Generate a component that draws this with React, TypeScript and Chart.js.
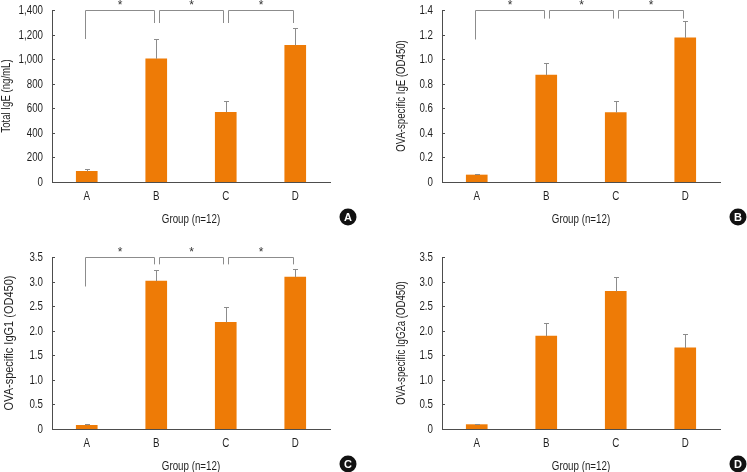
import React, { useEffect, useRef } from "react";
import { Chart, registerables } from "chart.js";
Chart.register(...registerables);

const FONT = "'Liberation Sans', Arial, sans-serif";
Chart.defaults.font.family = FONT;

const groups = ["A", "B", "C", "D"];
const xTitle = "Group (n=12)";

const totalIgE = [87, 1003, 568, 1112];
const totalIgEErr = [22, 158, 90, 138];
const totalIgETicks = [0, 200, 400, 600, 800, 1000, 1200, 1400];

const ovaIgE = [0.057, 0.87, 0.565, 1.174];
const ovaIgEErr = [0.011, 0.095, 0.093, 0.139];
const ovaIgETicks = [0, 0.2, 0.4, 0.6, 0.8, 1.0, 1.2, 1.4];

const ovaIgG1 = [0.075, 3.01, 2.17, 3.09];
const ovaIgG1Err = [0.025, 0.22, 0.32, 0.16];
const igGTicks = [0, 0.5, 1.0, 1.5, 2.0, 2.5, 3.0, 3.5];

const ovaIgG2a = [0.089, 1.89, 2.8, 1.65];
const ovaIgG2aErr = [0.012, 0.26, 0.3, 0.28];

// [from group index, to group index, bottom value of left leg, bottom value of right leg]
const bracketsA = [
  [0, 1, 1164, 1294],
  [1, 2, 1294, 1294],
  [2, 3, 1294, 1294],
];
const bracketsB = [
  [0, 1, 1.16, 1.33],
  [1, 2, 1.33, 1.33],
  [2, 3, 1.33, 1.33],
];
const bracketsC = [
  [0, 1, 2.9, 3.35],
  [1, 2, 3.35, 3.35],
  [2, 3, 3.35, 3.35],
];
const bracketsD: number[][] = [];

const ORANGE = "#EE7B06";
const AXIS = "#4d4d4d";
const GREY = "#8c8c8c";
const TEXT = "#1f1f1f";
const SX = 0.78;

function drawText(
  ctx: CanvasRenderingContext2D,
  text: string,
  x: number,
  y: number,
  size: number,
  align: CanvasTextAlign,
  sx: number,
  rotate = false
) {
  ctx.save();
  ctx.translate(x, y);
  if (rotate) ctx.rotate(-Math.PI / 2);
  ctx.scale(sx, 1);
  ctx.font = size + "px " + FONT;
  ctx.fillStyle = TEXT;
  ctx.textAlign = align;
  ctx.textBaseline = "middle";
  ctx.fillText(text, 0, 0);
  ctx.restore();
}

type PanelProps = {
  values: number[];
  errors: number[];
  ticks: number[];
  fmt: (v: number) => string;
  yTitle: string;
  badge: string;
  brackets: number[][];
  left: number;
  top: number;
  width: number;
  rightPad: number;
  titleX: number;
  titleSx: number;
};

function Panel(p: PanelProps) {
  const ref = useRef<HTMLCanvasElement>(null);
  useEffect(() => {
    const canvas = ref.current!;
    const yMax = p.ticks[p.ticks.length - 1];
    const step = p.ticks[1] - p.ticks[0];
    const overlay = {
      id: "overlay",
      afterDraw(chart: any) {
        const ctx = chart.ctx as CanvasRenderingContext2D;
        const xs = chart.scales.x;
        const ys = chart.scales.y;
        const area = chart.chartArea;
        ctx.save();
        // inward y ticks and y tick labels
        ctx.strokeStyle = AXIS;
        ctx.lineWidth = 1;
        p.ticks.forEach((t) => {
          const y = Math.round(ys.getPixelForValue(t)) + 0.5;
          ctx.beginPath();
          ctx.moveTo(area.left, y);
          ctx.lineTo(area.left + 3, y);
          ctx.stroke();
          drawText(ctx, p.fmt(t), area.left - 9, y, 12.5, "right", SX);
        });
        // x tick labels and titles
        groups.forEach((g, i) => {
          drawText(ctx, g, xs.getPixelForValue(i), area.bottom + 14.5, 12.5, "center", SX);
        });
        drawText(ctx, xTitle, (area.left + area.right) / 2, area.bottom + 37.5, 12.5, "center", SX);
        drawText(ctx, p.yTitle, p.titleX, (area.top + area.bottom) / 2, 12.5, "center", p.titleSx, true);
        // error bars
        ctx.strokeStyle = GREY;
        p.values.forEach((v, i) => {
          const x = Math.round(xs.getPixelForValue(i)) + 0.5;
          const y0 = ys.getPixelForValue(v);
          const y1 = Math.round(ys.getPixelForValue(v + p.errors[i])) + 0.5;
          ctx.beginPath();
          ctx.moveTo(x, y0);
          ctx.lineTo(x, y1);
          ctx.moveTo(x - 2.5, y1);
          ctx.lineTo(x + 2.5, y1);
          ctx.stroke();
        });
        // significance brackets
        const yTop = Math.round(ys.getPixelForValue(yMax)) + 0.5;
        p.brackets.forEach(([a, b, la, lb]) => {
          const xa = Math.round(xs.getPixelForValue(a) + (a === 0 ? -2 : 2.5)) + 0.5;
          const xb = Math.round(xs.getPixelForValue(b) - 2.5) + 0.5;
          ctx.strokeStyle = GREY;
          ctx.beginPath();
          ctx.moveTo(xa, ys.getPixelForValue(la));
          ctx.lineTo(xa, yTop);
          ctx.lineTo(xb, yTop);
          ctx.lineTo(xb, ys.getPixelForValue(lb));
          ctx.stroke();
          ctx.fillStyle = "#333";
          ctx.font = "12px " + FONT;
          ctx.textAlign = "center";
          ctx.textBaseline = "alphabetic";
          ctx.fillText("*", (xa + xb) / 2, yTop - 1.5);
        });
        // panel badge
        const bx = area.right + 18;
        const by = area.bottom + 35;
        ctx.fillStyle = "#111";
        ctx.beginPath();
        ctx.arc(bx, by, 8.5, 0, Math.PI * 2);
        ctx.fill();
        ctx.fillStyle = "#fff";
        ctx.font = "bold 11px " + FONT;
        ctx.textAlign = "center";
        ctx.textBaseline = "middle";
        ctx.fillText(p.badge, bx, by + 0.5);
        ctx.restore();
      },
    };
    const chart = new Chart(canvas, {
      type: "bar",
      data: {
        labels: groups,
        datasets: [
          {
            data: p.values,
            backgroundColor: ORANGE,
            borderWidth: 0,
            barThickness: 21,
          },
        ],
      },
      options: {
        animation: false,
        responsive: false,
        maintainAspectRatio: false,
        layout: { padding: { top: 10, right: p.rightPad, left: 0, bottom: 0 } },
        plugins: { legend: { display: false }, tooltip: { enabled: false } },
        scales: {
          x: {
            offset: true,
            grid: { display: false, drawTicks: false },
            border: { display: true, color: AXIS, width: 1 },
            ticks: { display: false },
            afterFit: (s: any) => {
              s.height = 53;
            },
          },
          y: {
            min: 0,
            max: yMax,
            grid: { display: false, drawTicks: false },
            border: { display: true, color: AXIS, width: 1 },
            ticks: { display: false, stepSize: step },
            afterFit: (s: any) => {
              s.width = 52;
            },
          },
        },
      },
      plugins: [overlay],
    });
    return () => chart.destroy();
  }, []);
  return (
    <canvas
      ref={ref}
      width={p.width}
      height={235}
      style={{ position: "absolute", left: p.left, top: p.top, width: p.width, height: 235 }}
    />
  );
}

const fmtComma = (v: number) => v.toLocaleString("en-US");
const fmtDec = (v: number) => (v === 0 ? "0" : v.toFixed(1));

export default function App() {
  return (
    <div
      style={{
        position: "absolute",
        left: 0,
        top: 0,
        width: 747,
        height: 472,
        overflow: "hidden",
        background: "#fff",
      }}
    >
      <Panel values={totalIgE} errors={totalIgEErr} ticks={totalIgETicks} fmt={fmtComma}
        yTitle="Total IgE (ng/mL)" badge="A" brackets={bracketsA}
        left={0} top={0} width={390} rightPad={60} titleX={7} titleSx={0.77} />
      <Panel values={ovaIgE} errors={ovaIgEErr} ticks={ovaIgETicks} fmt={fmtDec}
        yTitle="OVA-specific IgE (OD450)" badge="B" brackets={bracketsB}
        left={390} top={0} width={357} rightPad={27} titleX={12} titleSx={0.77} />
      <Panel values={ovaIgG1} errors={ovaIgG1Err} ticks={igGTicks} fmt={fmtDec}
        yTitle="OVA-specific IgG1 (OD450)" badge="C" brackets={bracketsC}
        left={0} top={247} width={390} rightPad={60} titleX={10} titleSx={0.88} />
      <Panel values={ovaIgG2a} errors={ovaIgG2aErr} ticks={igGTicks} fmt={fmtDec}
        yTitle="OVA-specific IgG2a (OD450)" badge="D" brackets={bracketsD}
        left={390} top={247} width={357} rightPad={27} titleX={12} titleSx={0.77} />
    </div>
  );
}
